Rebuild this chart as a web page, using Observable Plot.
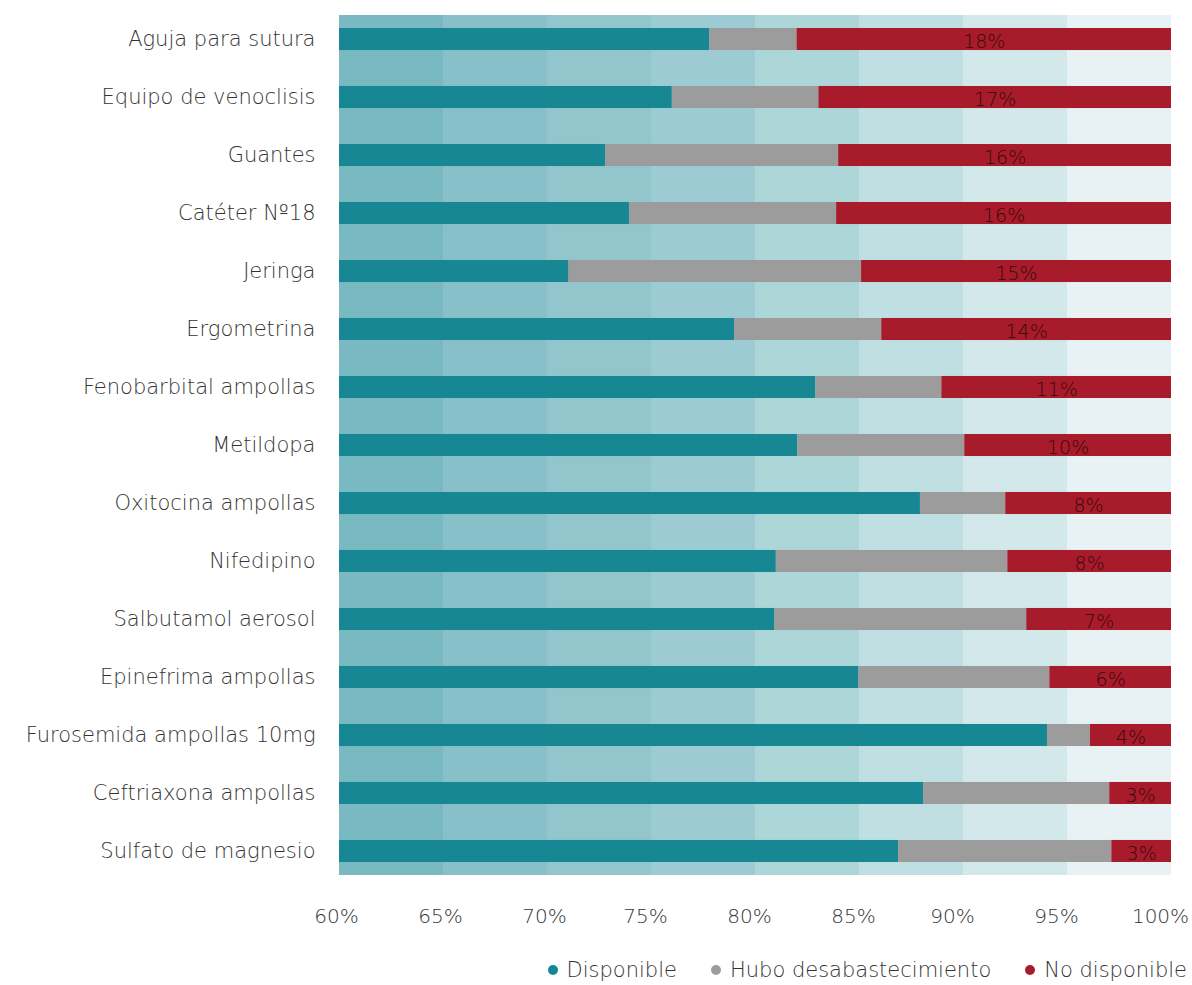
<!DOCTYPE html>
<html>
<head>
<meta charset="utf-8">
<script src="https://cdn.jsdelivr.net/npm/d3@7"></script>
<script src="https://cdn.jsdelivr.net/npm/@observablehq/plot@0.6"></script>
<style>
  html, body { margin: 0; padding: 0; background: #ffffff; }
  body { width: 1192px; font-family: "DejaVu Sans", sans-serif; color: #333; }
  #legend { display: flex; justify-content: flex-end; align-items: center; gap: 34px;
            padding-right: 5px; height: 24px; line-height: 24px; margin-top: 8px; font-size: 21px; font-weight: 200; color: #333; }
  #legend .item { display: flex; align-items: center; gap: 9px; }
  #legend .dot { width: 10px; height: 10px; border-radius: 50%; display: inline-block; }
  svg text { font-weight: 200; }
</style>
</head>
<body>
<div id="chart"></div>
<div id="legend"></div>
<script>
// ---- data ----
const items = [
  "Aguja para sutura", "Equipo de venoclisis", "Guantes", "Catéter Nº18", "Jeringa",
  "Ergometrina", "Fenobarbital ampollas", "Metildopa", "Oxitocina ampollas", "Nifedipino",
  "Salbutamol aerosol", "Epinefrima ampollas", "Furosemida ampollas 10mg",
  "Ceftriaxona ampollas", "Sulfato de magnesio"
];
const disponible =        [77.8, 76.0, 72.8, 73.94, 71.03, 79.0, 82.9, 82.03, 87.93, 81.0, 80.93, 84.97, 94.04, 88.08, 86.88];
const desabastecimiento = [4.2, 7.05, 11.2, 9.96, 14.07, 7.07, 6.06, 8.03, 4.1, 11.13, 12.11, 9.18, 2.06, 8.95, 10.25];
const noDisponible =      [18.0, 16.95, 16.0, 16.1, 14.9, 13.93, 11.04, 9.94, 7.97, 7.87, 6.96, 5.85, 3.9, 2.97, 2.87];
const series = ["Disponible", "Hubo desabastecimiento", "No disponible"];
const xTicks = [60, 65, 70, 75, 80, 85, 90, 95, 100];

// ---- styles ----
const SERIES_COLORS = ["#178793", "#9c9c9c", "#a81b2b"];
const BAND_COLORS = ["#79b9c1", "#87c0c8", "#92c5cc", "#9dcbd3", "#acd6d8", "#c0dfe3", "#d2e8ea", "#e8f1f4"];
const FONT = '"DejaVu Sans", sans-serif';

// ---- derived tables ----
const values = [disponible, desabastecimiento, noDisponible];
const rows = items.flatMap((item, i) => series.map((serie, s) => ({item, serie, value: values[s][i]})));
const labels = items.map((item, i) => ({item, no: noDisponible[i]}));
const bands = xTicks.slice(0, -1).map((t, i) => ({x1: t, x2: xTicks[i + 1]}));

const tickAxis = (ticks, dx) => Plot.axisX({
  ticks, tickFormat: d => d + "%", tickSize: 0, tickPadding: 33, dx, label: null, fontSize: 20
});

const chart = Plot.plot({
  width: 1192,
  height: 950,
  marginTop: 15,
  marginBottom: 75,
  marginLeft: 339,
  marginRight: 21,
  style: {fontFamily: FONT, fontSize: "21px", color: "#333", background: "#fff"},
  x: {domain: [60, 100], label: null},
  y: {domain: items, paddingInner: 0.62, paddingOuter: 0.224, round: false, tickSize: 0, tickPadding: 24, label: null},
  color: {domain: series, range: SERIES_COLORS},
  marks: [
    ...bands.map((b, i) => Plot.rect([b], {x1: "x1", x2: "x2", fill: BAND_COLORS[i]})),
    Plot.barX(rows, Plot.stackX({x: "value", y: "item", fill: "serie", order: series, clip: true})),
    Plot.text(labels, {
      x: d => 100 - d.no / 2, y: "item", text: d => Math.round(d.no) + "%",
      fill: "#000", fillOpacity: 0.72, fontSize: 19, dy: 2
    }),
    Plot.axisY({tickSize: 0, tickPadding: 24, label: null, fontSize: 21}),
    tickAxis(xTicks.slice(0, 3), -3),
    tickAxis(xTicks.slice(3, 6), -6),
    tickAxis(xTicks.slice(6), -11)
  ]
});
document.getElementById("chart").appendChild(chart);

const legend = document.getElementById("legend");
series.forEach((s, i) => {
  const el = document.createElement("div");
  el.className = "item";
  el.innerHTML = `<span class="dot" style="background:${SERIES_COLORS[i]}"></span><span>${s}</span>`;
  legend.appendChild(el);
});
</script>
</body>
</html>
